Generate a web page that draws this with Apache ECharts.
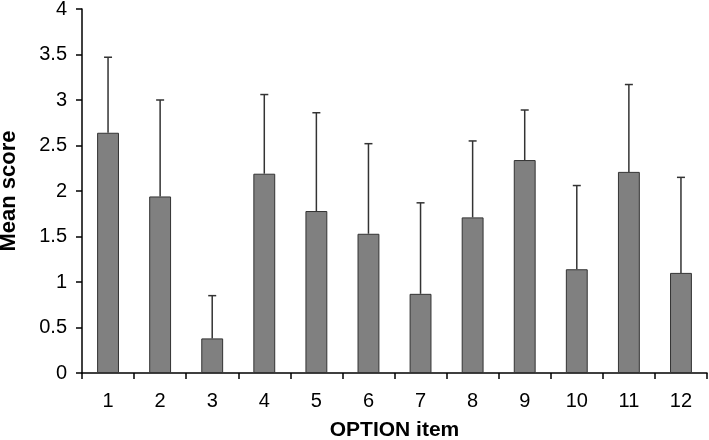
<!DOCTYPE html>
<html>
<head>
<meta charset="utf-8">
<script src="https://cdn.jsdelivr.net/npm/echarts@6/dist/echarts.min.js"></script>
<style>
  html, body { margin: 0; padding: 0; background: #fff; }
  #chart { width: 709px; height: 440px; }
</style>
</head>
<body>
<div id="chart"></div>
<script>
const categories = ['1', '2', '3', '4', '5', '6', '7', '8', '9', '10', '11', '12'];
const meanScores = [2.64, 1.94, 0.38, 2.19, 1.78, 1.53, 0.87, 1.71, 2.34, 1.14, 2.21, 1.10];
const upperErrors = [3.47, 3.00, 0.85, 3.06, 2.86, 2.52, 1.87, 2.55, 2.89, 2.06, 3.17, 2.15];

const myChart = echarts.init(document.getElementById('chart'));

const errorData = categories.map((c, i) => [i, meanScores[i], upperErrors[i]]);

const option = {
  animation: false,
  grid: { left: 82, right: 2, top: 9, bottom: 67, outerBoundsMode: 'none' },
  xAxis: {
    type: 'category',
    data: categories,
    name: 'OPTION item',
    nameLocation: 'middle',
    nameGap: 47,
    nameTextStyle: { fontFamily: 'Liberation Sans', fontWeight: 'bold', fontSize: 21, color: '#000' },
    axisLine: { lineStyle: { color: '#000', width: 1.5 } },
    axisTick: { show: true, length: 6, lineStyle: { color: '#000', width: 1.5 } },
    axisLabel: { fontFamily: 'Liberation Sans', fontSize: 20, color: '#000', margin: 18 }
  },
  yAxis: {
    type: 'value',
    min: 0,
    max: 4,
    interval: 0.5,
    name: 'Mean score',
    nameLocation: 'middle',
    nameGap: 62,
    nameTextStyle: { fontFamily: 'Liberation Sans', fontWeight: 'bold', fontSize: 22, color: '#000' },
    axisLine: { show: true, lineStyle: { color: '#000', width: 1.5 } },
    axisTick: { show: true, length: 6, lineStyle: { color: '#000', width: 1.5 } },
    axisLabel: { fontFamily: 'Liberation Sans', fontSize: 20, color: '#000', margin: 15 },
    splitLine: { show: false }
  },
  series: [
    {
      type: 'bar',
      data: meanScores,
      barWidth: '42%',
      itemStyle: { color: '#808080', borderColor: '#333', borderWidth: 1 }
    },
    {
      type: 'custom',
      data: errorData,
      z: 1,
      renderItem: (params, api) => {
        const base = api.coord([api.value(0), api.value(1)]);
        const top = api.coord([api.value(0), api.value(2)]);
        const style = { stroke: '#333', lineWidth: 1.5 };
        return {
          type: 'group',
          children: [
            { type: 'line', shape: { x1: base[0], y1: base[1], x2: top[0], y2: top[1] }, style },
            { type: 'line', shape: { x1: top[0] - 4, y1: top[1], x2: top[0] + 4, y2: top[1] }, style }
          ]
        };
      }
    }
  ]
};

myChart.setOption(option);
</script>
</body>
</html>
